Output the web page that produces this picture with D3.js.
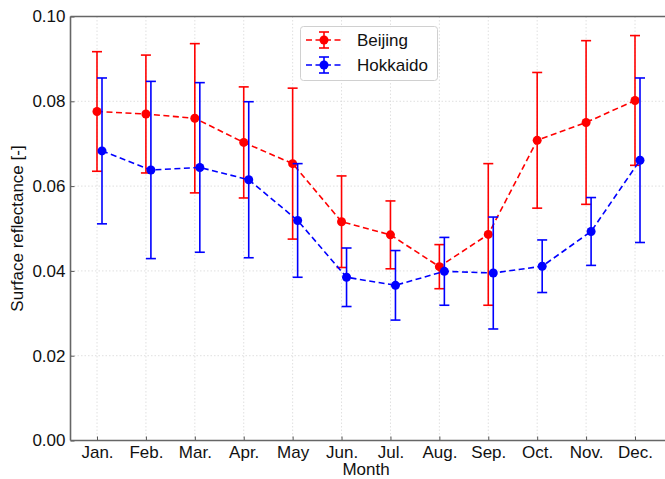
<!DOCTYPE html>
<html>
<head>
<meta charset="utf-8">
<script src="https://cdn.jsdelivr.net/npm/d3@7/dist/d3.min.js"></script>
<style>
  html, body { margin: 0; padding: 0; background: #fff; }
  svg { display: block; }
  text { font-family: "Liberation Sans", Arial, Helvetica, sans-serif; fill: #111; }
</style>
</head>
<body>
<svg id="chart" width="665" height="479"></svg>
<script>
// Monthly surface reflectance, mean and standard deviation
const months = ["Jan.", "Feb.", "Mar.", "Apr.", "May", "Jun.", "Jul.", "Aug.", "Sep.", "Oct.", "Nov.", "Dec."];
const beijingMean = [0.0776, 0.0770, 0.0760, 0.0703, 0.0653, 0.0516, 0.0485, 0.0410, 0.0486, 0.0708, 0.0750, 0.0802];
const beijingStd  = [0.0141, 0.0139, 0.0176, 0.0131, 0.0178, 0.0108, 0.0080, 0.0052, 0.0167, 0.0160, 0.0193, 0.0153];
const hokkaidoMean = [0.0683, 0.0638, 0.0644, 0.0615, 0.0519, 0.0385, 0.0366, 0.0399, 0.0395, 0.0411, 0.0493, 0.0661];
const hokkaidoStd  = [0.0172, 0.0209, 0.0200, 0.0184, 0.0134, 0.0069, 0.0082, 0.0080, 0.0132, 0.0062, 0.0080, 0.0194];
const yTicks = [0.00, 0.02, 0.04, 0.06, 0.08, 0.10];

const series = [
  { name: "Beijing",  color: "#ff0000", mean: beijingMean,  std: beijingStd,  shift: 0 },
  { name: "Hokkaido", color: "#0000ff", mean: hokkaidoMean, std: hokkaidoStd, shift: 5 }
];

const svg = d3.select("#chart");
const plotL = 70.5, plotR = 672, plotT = 16.5, plotB = 440.5;

const x = d3.scalePoint().domain(months).range([97, 635]);
const y = d3.scaleLinear().domain([0, 0.10]).range([plotB, plotT]);

// grid
const grid = svg.append("g").attr("stroke", "#d8d8d8").attr("stroke-width", 0.8).attr("stroke-dasharray", "1.5,2");
grid.selectAll("line.gx").data(months).join("line").attr("class", "gx")
  .attr("x1", d => x(d)).attr("x2", d => x(d)).attr("y1", plotT).attr("y2", plotB);
grid.selectAll("line.gy").data(yTicks).join("line").attr("class", "gy")
  .attr("x1", plotL).attr("x2", plotR).attr("y1", d => y(d)).attr("y2", d => y(d));

// axes (inward ticks)
const xAxis = d3.axisBottom(x).tickSize(-4).tickPadding(5);
const yAxis = d3.axisLeft(y).tickValues(yTicks).tickFormat(d3.format(".2f")).tickSize(-4).tickPadding(5);

const gx = svg.append("g").attr("transform", `translate(0,${plotB})`).call(xAxis);
const gy = svg.append("g").attr("transform", `translate(${plotL},0)`).call(yAxis);
[gx, gy].forEach(g => {
  g.select(".domain").remove();
  g.selectAll(".tick line").attr("stroke", "#555").attr("stroke-width", 1);
  g.selectAll(".tick text").style("font-size", "17px").attr("fill", "#111")
    .style("font-family", "'Liberation Sans', Arial, sans-serif");
});

// frame
const frame = svg.append("g").attr("stroke", "#666").attr("stroke-width", 1.6).attr("fill", "none");
frame.append("line").attr("x1", plotL).attr("x2", plotL).attr("y1", plotT).attr("y2", plotB);
frame.append("line").attr("x1", plotL).attr("x2", plotR).attr("y1", plotB).attr("y2", plotB);
frame.append("line").attr("x1", plotL).attr("x2", plotR).attr("y1", plotT).attr("y2", plotT);

// series: error bars, dashed line, markers
series.forEach(s => {
  const g = svg.append("g");
  const px = i => x(months[i]) + s.shift;
  const idx = d3.range(months.length);
  const eb = g.append("g").attr("stroke", s.color).attr("stroke-width", 1.6);
  idx.forEach(i => {
    const lo = y(s.mean[i] - s.std[i]), hi = y(s.mean[i] + s.std[i]);
    eb.append("line").attr("x1", px(i)).attr("x2", px(i)).attr("y1", lo).attr("y2", hi);
    eb.append("line").attr("x1", px(i) - 5).attr("x2", px(i) + 5).attr("y1", lo).attr("y2", lo);
    eb.append("line").attr("x1", px(i) - 5).attr("x2", px(i) + 5).attr("y1", hi).attr("y2", hi);
  });
  const line = d3.line().x(i => px(i)).y(i => y(s.mean[i]));
  g.append("path").datum(idx).attr("d", line)
    .attr("fill", "none").attr("stroke", s.color).attr("stroke-width", 1.6).attr("stroke-dasharray", "6,3.5");
  g.selectAll("circle").data(idx).join("circle")
    .attr("cx", i => px(i)).attr("cy", i => y(s.mean[i])).attr("r", 4.5).attr("fill", s.color);
});

// legend
const lg = svg.append("g");
lg.append("rect").attr("x", 300.5).attr("y", 26.5).attr("width", 137).attr("height", 54).attr("rx", 3)
  .attr("fill", "#fff").attr("fill-opacity", 0.85).attr("stroke", "#d0d0d0").attr("stroke-width", 1);
series.forEach((s, k) => {
  const cy = 40 + k * 25;
  const e = lg.append("g").attr("stroke", s.color).attr("stroke-width", 1.6);
  e.append("line").attr("x1", 306).attr("x2", 342).attr("y1", cy).attr("y2", cy).attr("stroke-dasharray", "6,3.5");
  e.append("line").attr("x1", 324).attr("x2", 324).attr("y1", cy - 8).attr("y2", cy + 8);
  e.append("line").attr("x1", 319).attr("x2", 329).attr("y1", cy - 8).attr("y2", cy - 8);
  e.append("line").attr("x1", 319).attr("x2", 329).attr("y1", cy + 8).attr("y2", cy + 8);
  lg.append("circle").attr("cx", 324).attr("cy", cy).attr("r", 4.5).attr("fill", s.color);
  lg.append("text").attr("x", 357).attr("y", cy + 6).style("font-size", "17px").text(s.name);
});

// axis titles
svg.append("text").attr("x", 366).attr("y", 475).attr("text-anchor", "middle")
  .style("font-size", "17px").text("Month");
svg.append("text").attr("transform", `translate(23,${(plotT + plotB) / 2}) rotate(-90)`)
  .attr("text-anchor", "middle").style("font-size", "17px").text("Surface reflectance [-]");
</script>
</body>
</html>
